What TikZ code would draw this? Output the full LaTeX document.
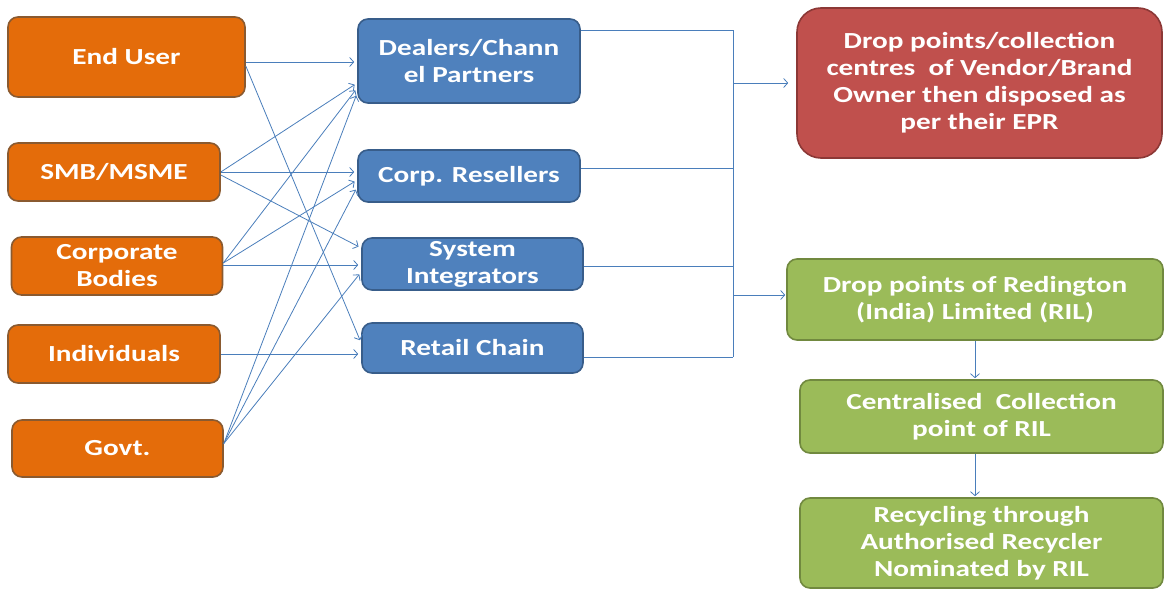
\documentclass[tikz,border=0pt]{standalone}
\usepackage{fontspec}
\setmainfont{Carlito}[FakeStretch=1.27]
\usetikzlibrary{arrows.meta}
\usetikzlibrary{positioning}

\definecolor{srcorange}{HTML}{E46C0A}
\definecolor{srcline}{HTML}{8A5A30}
\definecolor{chanblue}{HTML}{4F81BD}
\definecolor{chanline}{HTML}{385D8A}
\definecolor{vendred}{HTML}{C0504D}
\definecolor{vendline}{HTML}{8C3836}
\definecolor{rilgreen}{HTML}{9BBB59}
\definecolor{rilline}{HTML}{71893F}
\definecolor{linkblue}{HTML}{4A7EBB}

\begin{document}
\begin{tikzpicture}[x=1pt, y=-1pt,
    box/.style={draw, line width=1.6pt, rounded corners=10pt, align=center,
      text=white, inner sep=0pt, font=\bfseries\fontsize{23}{27}\selectfont},
    source/.style={box, fill=srcorange, draw=srcline},
    channel/.style={box, fill=chanblue, draw=chanline},
    vendor/.style={box, fill=vendred, draw=vendline, rounded corners=24pt},
    ril/.style={box, fill=rilgreen, draw=rilline},
    wire/.style={draw=linkblue, line width=0.8pt},
    link/.style={wire, -{Straight Barb[length=4pt,width=9pt]}, shorten >=3pt}]
  \useasboundingbox (0,0) rectangle (1165,591);

  % buyers
  \node[source, minimum width=237pt, minimum height=80pt] (enduser) at (126.5,57) {End User};
  \node[source, minimum width=212pt, minimum height=58pt] (smb) at (114,172) {SMB/MSME};
  \node[source, minimum width=211pt, minimum height=58pt] (corp) at (117,266) {Corporate\\Bodies};
  \node[source, minimum width=212pt, minimum height=58pt] (indiv) at (114,354) {Individuals};
  \node[source, minimum width=211pt, minimum height=57pt] (govt) at (117.5,448.5) {Govt.};

  % sales channels
  \node[channel, minimum width=222pt, minimum height=84pt] (dealers) at (469,61) {Dealers/Chann\\el Partners};
  \node[channel, minimum width=222pt, minimum height=52pt] (corpres) at (469,176) {Corp. Resellers};
  \node[channel, minimum width=221pt, minimum height=52pt] (sysint) at (472.5,264) {System\\Integrators};
  \node[channel, minimum width=221pt, minimum height=50pt] (retail) at (472.5,348) {Retail Chain};

  % disposal
  \node[vendor, minimum width=365pt, minimum height=150pt] (vendor) at (979.5,83)
    {Drop points/collection\\centres~~of Vendor/Brand\\Owner then disposed as\\per their EPR};
  \node[ril, minimum width=376pt, minimum height=81pt] (dropril) at (975,299.5)
    {Drop points of Redington\\(India) Limited (RIL)};
  \node[ril, minimum width=363pt, minimum height=73pt] (central) at (981.5,416.5)
    {Centralised~~Collection\\point of RIL};
  \node[ril, minimum width=363pt, minimum height=90pt] (recycle) at (981.5,543)
    {Recycling through\\Authorised Recycler\\Nominated by RIL};

  % buyers to channels
  \draw[link] ([yshift=-5pt]enduser.east) -- ([yshift=-1pt]dealers.west);
  \draw[link] ([yshift=-9pt]enduser.east) -- ([yshift=5pt]retail.west);
  \draw[link] (smb.east) -- ([yshift=-22pt]dealers.west);
  \draw[link] (smb.east) -- ([yshift=4pt]corpres.west);
  \draw[link] ([yshift=-3pt]smb.east) -- ([yshift=16pt]sysint.west);
  \draw[link] ([yshift=3pt]corp.east) -- ([yshift=-27pt]dealers.west);
  \draw[link] ([yshift=3pt]corp.east) -- ([yshift=-4pt]corpres.west);
  \draw[link] ([yshift=1pt]corp.east) -- ([yshift=-1pt]sysint.west);
  \draw[link] (indiv.east) -- ([yshift=-6pt]retail.west);
  \draw[link] ([yshift=5pt]govt.east) -- ([yshift=-32pt]dealers.west);
  \draw[link] ([yshift=5pt]govt.east) -- ([yshift=-11pt]corpres.west);
  \draw[link] ([yshift=5pt]govt.east) -- ([yshift=-8pt]sysint.west);

  % channels to the bus
  \coordinate (bustop) at (733,30);
  \coordinate (jres) at (733,168);
  \coordinate (jsys) at (733,266);
  \coordinate (busbot) at (733,357);
  \coordinate (jvendor) at (733,83);
  \coordinate (jril) at (733,295);
  \draw[wire] (dealers.east |- bustop) -- (bustop) -- (busbot);
  \draw[wire] (corpres.east |- jres) -- (jres);
  \draw[wire] (sysint.east |- jsys) -- (jsys);
  \draw[wire] (retail.east |- busbot) -- (busbot);
  \draw[link, shorten >=8pt] (jvendor) -- (vendor.west);
  \draw[link, shorten >=1pt] (jril) -- (dropril.west |- jril);

  % RIL chain
  \draw[link, shorten >=1pt] (dropril.south) -- (dropril.south |- central.north);
  \draw[link, shorten >=1pt] (central.south -| dropril.south) -- (recycle.north -| dropril.south);
\end{tikzpicture}
\end{document}
